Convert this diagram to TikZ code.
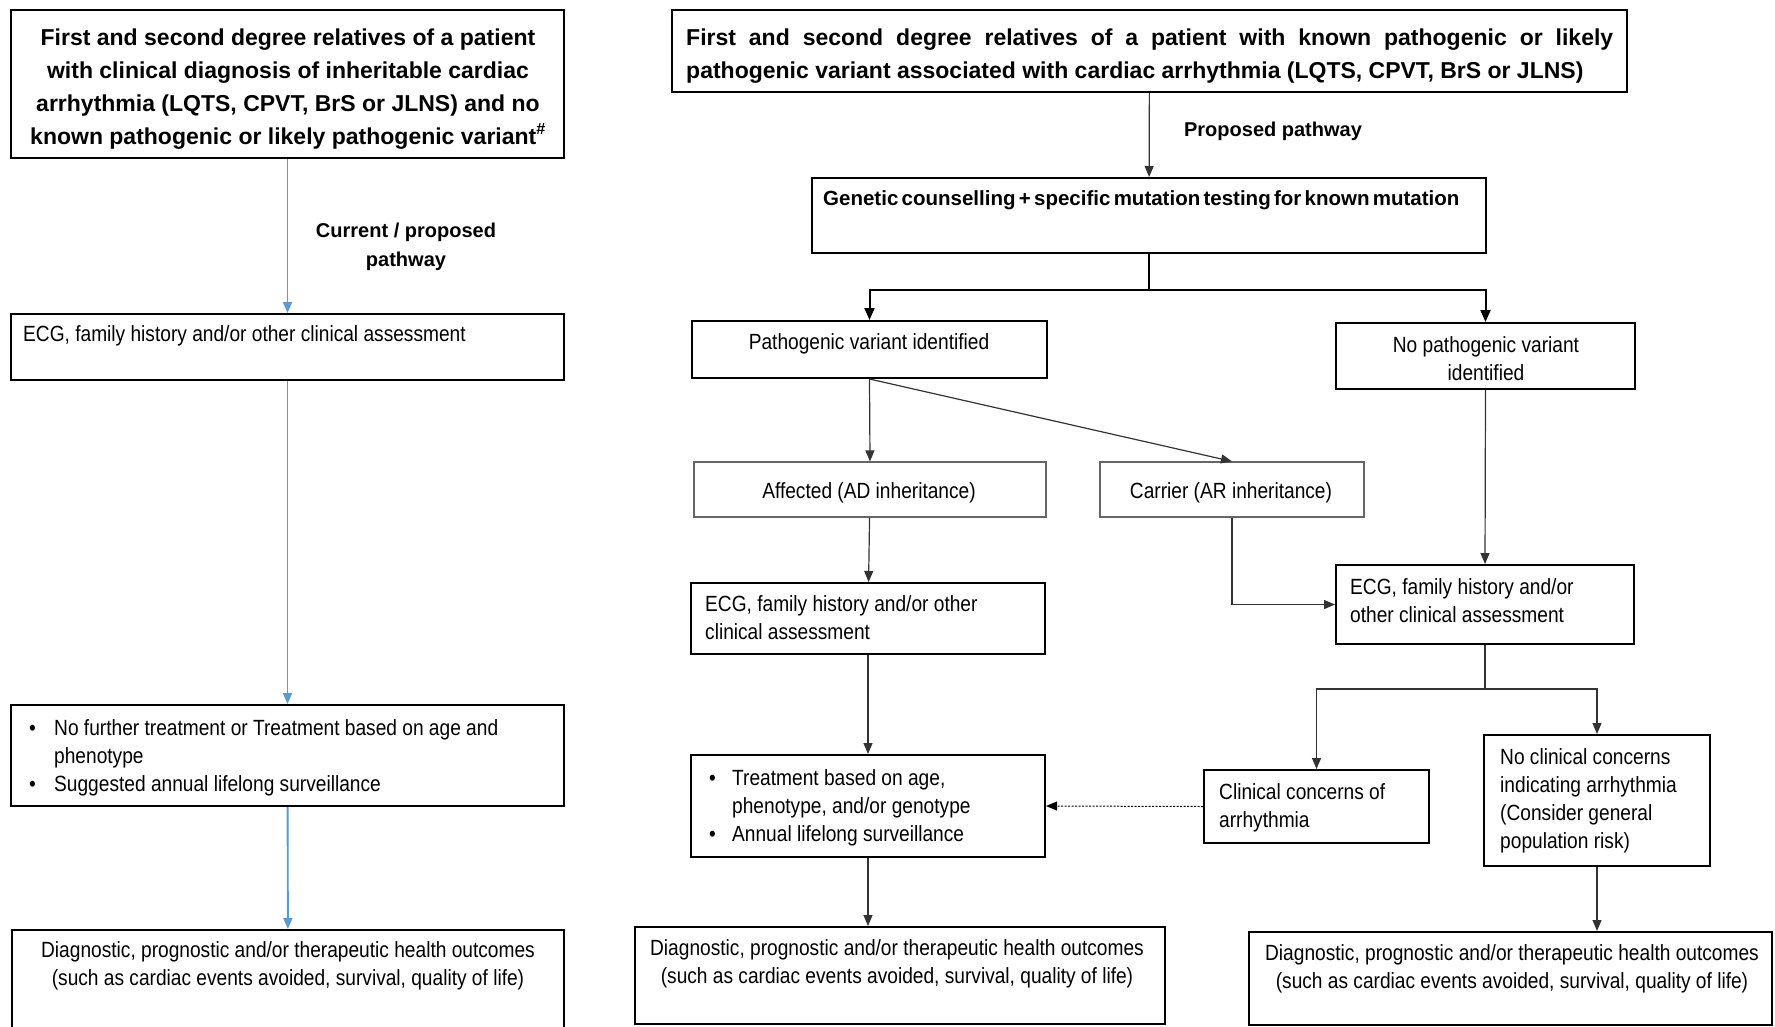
\documentclass[tikz,border=0pt]{standalone}
\usepackage{fontspec}
\setmainfont{Liberation Sans}
\newfontfamily\fnar[FakeStretch=0.87]{Liberation Sans}
\usetikzlibrary{arrows.meta,fit}
\definecolor{myblue}{RGB}{91,155,213}
\begin{document}
\begin{tikzpicture}[x=1pt,y=-1pt,
  box/.style={draw=black, line width=2pt, inner sep=0pt},
  gbox/.style={draw=black!60, line width=1.2pt, inner sep=0pt},
  txt/.style={inner sep=0pt, font=\fnar\fontsize{22}{28.3}\selectfont},
  btxt/.style={inner sep=0pt, font=\bfseries\fontsize{23}{33}\selectfont},
  ltxt/.style={inner sep=0pt, font=\bfseries\fontsize{20}{29}\selectfont},
  bluearr/.style={draw=myblue, line width=1.9pt, -{Triangle[length=11pt,width=9pt]}},
  arr/.style={draw=black!80, line width=1.2pt, -{Triangle[length=11pt,width=9pt]}},
  tarr/.style={draw=black, line width=2pt, -{Triangle[length=12pt,width=10pt]}},
  tline/.style={draw=black, line width=2pt},
  line/.style={draw=black!80, line width=1.2pt},
  dotarr/.style={draw=black, line width=1pt, dash pattern=on 2pt off 1.5pt, -{Triangle[length=11pt,width=9pt]}}
]
\useasboundingbox[fill=white] (0,0) rectangle (1775,1026);

% ---------------- left column boxes
\node[box, fit={(11,10) (564,158)}] (a1) {};
\node[box, fit={(11,314) (564,380)}] (a2) {};
\node[box, fit={(11,705) (564,806)}] (a3) {};
\node[box, fit={(12,930) (564,1040)}] (a4) {};

\node[btxt, anchor=base] (a1t) at (288,45) {\begin{tabular}[t]{@{}c@{}}First and second degree relatives of a patient\\ with clinical diagnosis of inheritable cardiac\\ arrhythmia (LQTS, CPVT, BrS or JLNS) and no\\ known pathogenic or likely pathogenic variant\textsuperscript{\#}\end{tabular}};
\node[ltxt, anchor=base] (lbl1) at (406,237) {\begin{tabular}[t]{@{}c@{}}Current / proposed\\pathway\end{tabular}};
\node[txt, anchor=base west] (a2t) at (23,341) {ECG, family history and/or other clinical assessment};
\node[txt, anchor=base west] (a3t) at (29,735) {\begin{tabular}[t]{@{}p{25pt}@{}l@{}}\textbullet&No further treatment or Treatment based on age and\\&phenotype\\\textbullet&Suggested annual lifelong surveillance\end{tabular}};
\node[txt, anchor=base] (a4t) at (288,957) {\begin{tabular}[t]{@{}c@{}}Diagnostic, prognostic and/or therapeutic health outcomes\\(such as cardiac events avoided, survival, quality of life)\end{tabular}};

\draw[bluearr] (a1) -- (a2);
\draw[bluearr] (a2) -- (a3);
\draw[bluearr] (a3) -- (a4);

% ---------------- right column boxes
\node[box, fit={(672,10) (1627,92)}] (b1) {};
\node[box, fit={(812,178) (1486,253)}] (b2) {};
\node[box, fit={(692,321) (1047,378)}] (b3) {};
\node[box, fit={(1336,323) (1635,389)}] (b4) {};
\node[gbox, fit={(694,462) (1046,517)}] (b5) {};
\node[gbox, fit={(1100,462) (1364,517)}] (b6) {};
\node[box, fit={(691,583) (1045,654)}] (b7) {};
\node[box, fit={(1336,565) (1634,644)}] (b8) {};
\node[box, fit={(691,755) (1045,857)}] (b9) {};
\node[box, fit={(1204,770) (1429,843)}] (b10) {};
\node[box, fit={(1484,735) (1710,866)}] (b11) {};
\node[box, fit={(635,927) (1165,1024)}] (b12) {};
\node[box, fit={(1249,932) (1772,1025)}] (b13) {};

\node[btxt, anchor=base west] (b1t) at (686,45) {\begin{minipage}[t]{927pt}\baselineskip=33pt First and second degree relatives of a patient with known pathogenic or likely pathogenic variant associated with cardiac arrhythmia (LQTS, CPVT, BrS or JLNS)\end{minipage}};
\node[ltxt, anchor=base] (lbl2) at (1273,136) {Proposed pathway};
\node[inner sep=0pt, anchor=base west, font=\bfseries\fontsize{20.5}{24}\selectfont] (b2t) at (823,205) {\spaceskip=0.16em Genetic counselling + specific mutation testing for known mutation};
\node[txt, anchor=base] (b3t) at (869,349) {Pathogenic variant identified};
\node[txt, anchor=base] (b4t) at (1486,352) {\begin{tabular}[t]{@{}c@{}}No pathogenic variant\\identified\end{tabular}};
\node[txt, anchor=base] (b5t) at (869,498) {Affected (AD inheritance)};
\node[txt, anchor=base] (b6t) at (1231,498) {Carrier (AR inheritance)};
\node[txt, anchor=base west] (b7t) at (705,611) {\begin{tabular}[t]{@{}l@{}}ECG, family history and/or other\\clinical assessment\end{tabular}};
\node[txt, anchor=base west] (b8t) at (1350,594) {\begin{tabular}[t]{@{}l@{}}ECG, family history and/or\\other clinical assessment\end{tabular}};
\node[txt, anchor=base west] (b9t) at (709,785) {\begin{tabular}[t]{@{}p{23pt}@{}l@{}}\textbullet&Treatment based on age,\\&phenotype, and/or genotype\\\textbullet&Annual lifelong surveillance\end{tabular}};
\node[txt, anchor=base west] (b10t) at (1219,799) {\begin{tabular}[t]{@{}l@{}}Clinical concerns of\\arrhythmia\end{tabular}};
\node[txt, anchor=base west] (b11t) at (1500,764) {\begin{tabular}[t]{@{}l@{}}No clinical concerns\\indicating arrhythmia\\(Consider general\\population risk)\end{tabular}};
\node[txt, anchor=base] (b12t) at (897,955) {\begin{tabular}[t]{@{}c@{}}Diagnostic, prognostic and/or therapeutic health outcomes\\(such as cardiac events avoided, survival, quality of life)\end{tabular}};
\node[txt, anchor=base] (b13t) at (1512,960) {\begin{tabular}[t]{@{}c@{}}Diagnostic, prognostic and/or therapeutic health outcomes\\(such as cardiac events avoided, survival, quality of life)\end{tabular}};

% ---------------- right column connectors
\coordinate (s1) at (1149,290);
\coordinate (s2) at (1485,689);
\draw[arr] (b1) -- (b2);
\draw[tline] (b2.south) -- (s1);
\draw[tarr] (s1) -| (b3.north);
\draw[tarr] (s1) -| (b4.north);
\draw[arr] (b3.south) -- (b5.north);
\draw[arr] (b3.south) -- (b6.north);
\draw[arr] (b4.south) -- (b8.north);
\draw[arr] (b6.south) |- (b8.west);
\draw[arr] (b5) -- (b7);
\draw[arr] (b7) -- (b9);
\draw[arr] (b9.south) -- (b9.south |- b12.north);
\draw[line] (b8.south) -- (s2);
\draw[arr] (s2) -| (b10.north);
\draw[arr] (s2) -| (b11.north);
\draw[dotarr] (b10.west) -- (b9.east);
\draw[arr] (b11.south) -- (b11.south |- b13.north);
\end{tikzpicture}
\end{document}
